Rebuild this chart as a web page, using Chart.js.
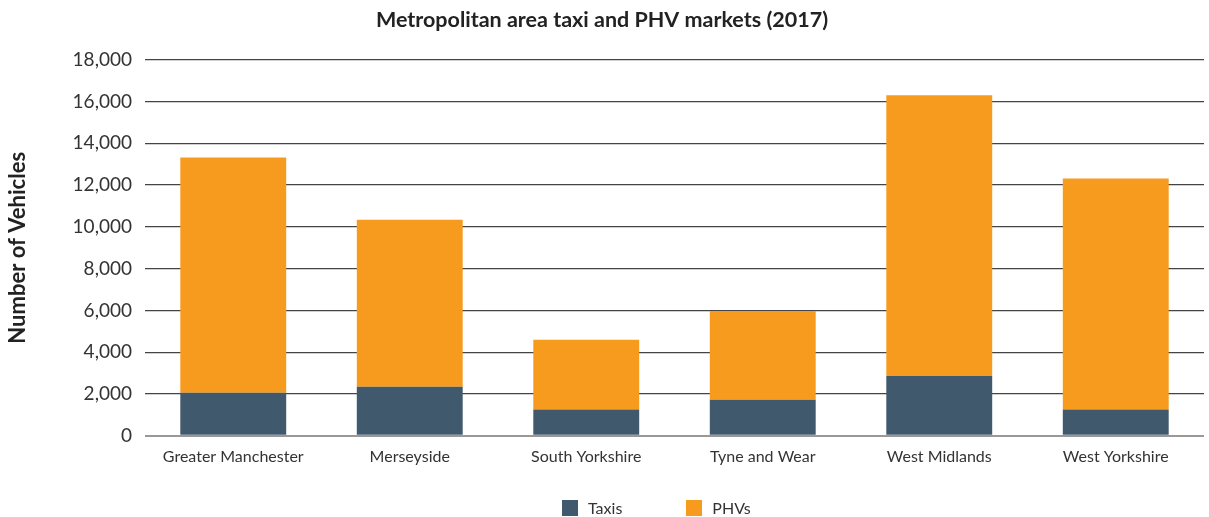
<!DOCTYPE html>
<html>
<head>
<meta charset="utf-8">
<script src="https://cdn.jsdelivr.net/npm/chart.js@4.4.1/dist/chart.umd.min.js"></script>
<style>
  html, body { margin: 0; padding: 0; background: #fff; }
  #wrap { position: relative; width: 1209px; height: 517px; font-family: Lato, "Open Sans", sans-serif; }
  #legend { position: absolute; left: 562px; top: 498px; display: flex; gap: 64px; font-size: 16px; color: #333; }
  #legend .item { display: flex; align-items: center; }
  #legend .box { width: 16px; height: 16px; margin-right: 10px; }
</style>
</head>
<body>
<div id="wrap">
  <canvas id="chart" width="1209" height="517"></canvas>
  <div id="legend"></div>
</div>
<script>
// Metropolitan area taxi and PHV markets (2017)
const areas = ['Greater Manchester', 'Merseyside', 'South Yorkshire', 'Tyne and Wear', 'West Midlands', 'West Yorkshire'];
const taxis = [2060, 2345, 1260, 1730, 2865, 1260];
const phvs = [11260, 8000, 3340, 4250, 13435, 11055];
const seriesNames = ['Taxis', 'PHVs'];
const seriesColors = ['#41596d', '#f79b1f'];

const ctx = document.getElementById('chart').getContext('2d');
Chart.defaults.font.family = 'Lato, "Open Sans", sans-serif';
Chart.defaults.color = '#333';

const chart = new Chart(ctx, {
    type: 'bar',
    data: {
        labels: areas,
        datasets: [
            { label: seriesNames[0], data: taxis, backgroundColor: seriesColors[0] },
            { label: seriesNames[1], data: phvs, backgroundColor: seriesColors[1] }
        ]
    },
    options: {
        responsive: false,
        animation: false,
        barPercentage: 0.6,
        categoryPercentage: 1.0,
        layout: { padding: { left: 0, right: 5, top: 0, bottom: 40 } },
        plugins: {
            legend: { display: false },
            tooltip: { enabled: false },
            title: {
                display: true,
                text: 'Metropolitan area taxi and PHV markets (2017)',
                color: '#222',
                font: { size: 21.5, weight: 'bold' },
                padding: { top: 7, bottom: 27 }
            }
        },
        scales: {
            x: {
                stacked: true,
                grid: { display: false, drawTicks: false },
                border: { display: false },
                ticks: { padding: 11, font: { size: 16 }, color: '#333', maxRotation: 0 }
            },
            y: {
                stacked: true,
                min: 0,
                max: 18000,
                afterFit: function(axis) { axis.width = 145; },
                border: { display: false },
                grid: {
                    drawTicks: false,
                    color: c => c.tick && c.tick.value === 0 ? '#999' : '#444',
                    lineWidth: c => c.tick && c.tick.value === 0 ? 2 : 1.3
                },
                ticks: {
                    stepSize: 2000,
                    padding: 13,
                    font: { size: 19 },
                    color: '#333',
                    callback: v => v.toLocaleString('en-US')
                },
                title: {
                    display: true,
                    text: 'Number of Vehicles',
                    color: '#222',
                    font: { size: 22, weight: 'bold' },
                    padding: { top: 5, bottom: 0 }
                }
            }
        }
    }
});

// HTML legend built from the datasets
const legend = document.getElementById('legend');
chart.data.datasets.forEach(ds => {
    const item = document.createElement('div');
    item.className = 'item';
    item.innerHTML = `<span class="box" style="background:${ds.backgroundColor}"></span><span>${ds.label}</span>`;
    legend.appendChild(item);
});
</script>
</body>
</html>
